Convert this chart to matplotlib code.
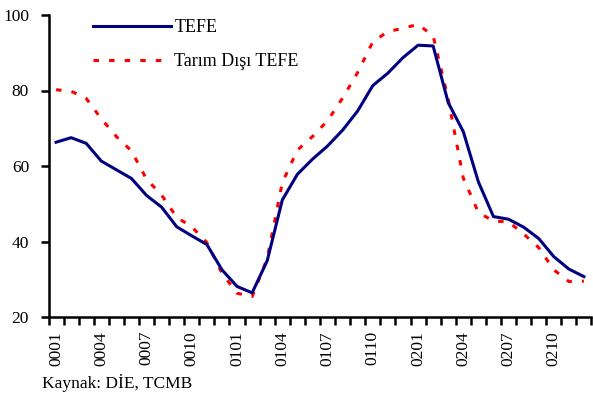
import matplotlib
matplotlib.use("Agg")
import matplotlib.pyplot as plt
import numpy as np

plt.rcParams['font.family'] = ['Liberation Serif', 'DejaVu Serif']

# monthly categories 2000-01 .. 2002-12, labelled every third month
tick_labels = ['0001', '0004', '0007', '0010', '0101', '0104',
               '0107', '0110', '0201', '0204', '0207', '0210']
n_months = 36

tefe = [66.3, 67.5, 66.0, 61.3, 59.0, 56.7, 52.2, 49.1, 43.9, 41.5,
        39.2, 32.5, 28.1, 26.4, 34.9, 51.0, 57.8, 61.8, 65.3, 69.5,
        74.6, 81.3, 84.6, 88.7, 92.0, 91.8, 76.8, 69.1, 55.8, 46.6,
        45.9, 43.8, 40.8, 36.0, 32.7, 30.7]
tarim_disi = [80.2, 79.8, 77.9, 72.5, 67.8, 64.0, 56.5, 52.3, 46.4, 43.9,
              39.7, 31.6, 26.3, 25.4, 35.5, 55.6, 64.2, 67.8, 72.0, 78.0,
              84.8, 92.9, 95.6, 96.5, 97.5, 94.5, 77.7, 56.8, 47.7, 45.4,
              45.2, 42.0, 38.4, 32.5, 29.4, 29.5]

W, H = 593, 394
fig = plt.figure(figsize=(W / 100, H / 100), dpi=100)
ax = fig.add_axes([48.5 / W, (H - 317) / H, (591.5 - 48.5) / W, (317 - 15) / H])

x = np.arange(n_months)
ax.plot(x, tefe, color='#000080', lw=2.2, label='TEFE', zorder=3)
ax.plot(x, tarim_disi, color='#FF0000', lw=2.2, linestyle=(0, (1.8, 3.3)),
        dash_capstyle='butt', label='Tarım Dışı TEFE', zorder=2)

ax.set_xlim(-0.5, n_months - 0.5)
ax.set_ylim(20, 100)
ax.set_yticks([20, 40, 60, 80, 100])

# tick marks between categories, labels at category centres
ax.set_xticks(np.arange(n_months + 1) - 0.5)
ax.set_xticklabels([])
ax.set_xticks(np.arange(0, n_months, 3), minor=True)
ax.set_xticklabels(tick_labels, minor=True, rotation=90, fontsize=12.5)
ax.tick_params(axis='x', which='major', direction='out', length=6, width=1.8)
ax.tick_params(axis='x', which='minor', length=0, pad=10)
ax.tick_params(axis='y', direction='out', length=6, width=1.8, pad=8, labelsize=12.5)

for s in ['top', 'right']:
    ax.spines[s].set_visible(False)
for s in ['left', 'bottom']:
    ax.spines[s].set_linewidth(1.8)

leg = ax.legend(loc='upper left', bbox_to_anchor=(93 / W, 1 - 19 / H),
                bbox_transform=fig.transFigure, frameon=False, fontsize=13,
                handlelength=4.3, handletextpad=0.2, labelspacing=0.95,
                borderpad=0, borderaxespad=0)

fig.text(42 / W, (H - 388) / H, 'Kaynak: DİE, TCMB', fontsize=12.5, va='baseline')

fig.savefig('out.png', dpi=100)
